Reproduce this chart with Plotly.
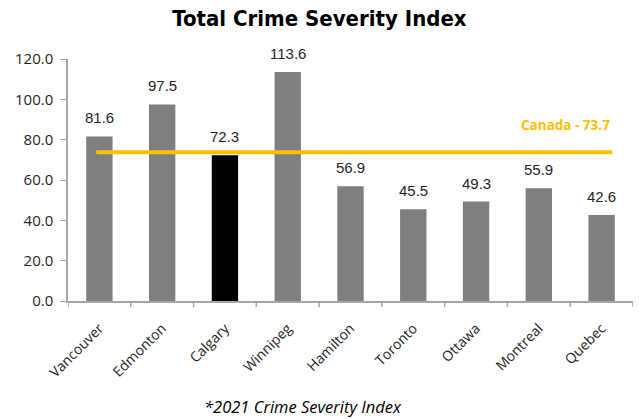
import plotly.graph_objects as go

cities = ["Vancouver", "Edmonton", "Calgary", "Winnipeg", "Hamilton", "Toronto", "Ottawa", "Montreal", "Quebec"]
csi = [81.6, 97.5, 72.3, 113.6, 56.9, 45.5, 49.3, 55.9, 42.6]
canada_avg = 73.7
highlight = "Calgary"
y_ticks = [0, 20, 40, 60, 80, 100, 120]

colors = ["#000000" if c == highlight else "#7f7f7f" for c in cities]
narrow = "DejaVu Sans Condensed, Liberation Sans Narrow, Arial Narrow, sans-serif"
xs = list(range(len(cities)))

fig = go.Figure()
fig.add_trace(go.Bar(
    x=xs, y=csi,
    marker=dict(color=colors, line=dict(width=0)),
    width=0.42, hoverinfo="x+y",
))

for xi, v in zip(xs, csi):
    fig.add_annotation(x=xi, y=v, xref="x", yref="y", yanchor="bottom", yshift=8,
                       text=f"{v:.1f}", showarrow=False,
                       font=dict(family="Liberation Sans, Arial", size=15, color="#262626"))

fig.add_shape(type="line", xref="x", yref="y", x0=-0.05, x1=8.17, y0=canada_avg, y1=canada_avg,
              line=dict(color="#FFC000", width=4))
fig.add_annotation(x=8.17, y=canada_avg, xref="x", yref="y", xanchor="right", yanchor="middle",
                   yshift=27, text=f"<b>Canada - {canada_avg}</b>", showarrow=False,
                   font=dict(family="Open Sans", size=13.5, color="#FFC000"))

fig.update_layout(
    width=639, height=419,
    margin=dict(l=68, r=6, t=59, b=118, autoexpand=False),
    paper_bgcolor="white", plot_bgcolor="white",
    showlegend=False,
    title=dict(text="<b>Total Crime Severity Index</b>", x=0.5, xanchor="center", y=0.957, yanchor="middle",
               font=dict(family=narrow, size=22, color="#000000")),
    xaxis=dict(tickmode="array", tickvals=xs, ticktext=cities,
               tickangle=-45, range=[-0.5, len(cities) - 0.5], automargin=False,
               showline=True, linecolor="#a6a6a6", linewidth=1.5,
               ticks="", showgrid=False, ticklabelstandoff=12,
               tickfont=dict(family="Open Sans", size=14, color="#262626")),
    yaxis=dict(range=[0, 120], tickmode="array", tickvals=y_ticks, ticktext=[f"{v:.1f}" for v in y_ticks],
               showline=True, linecolor="#a6a6a6", linewidth=1.5, ticks="outside", ticklen=6,
               tickcolor="#a6a6a6", showgrid=False, zeroline=False, automargin=False,
               ticklabelstandoff=4,
               tickfont=dict(family="Open Sans", size=15, color="#262626")),
)

# category separator tick marks on x-axis
for i in range(len(cities) + 1):
    fig.add_shape(type="line", xref="x", yref="paper", x0=i - 0.5, x1=i - 0.5, y0=0, y1=-0.025,
                  line=dict(color="#a6a6a6", width=1.5))

fig.add_annotation(x=0.416, y=-0.438, xref="paper", yref="paper", yanchor="middle", xanchor="center",
                   text="<i>*2021 Crime Severity Index</i>", showarrow=False,
                   font=dict(family="Open Sans", size=16.5, color="#000000"))

fig.write_html("out.html", config={"displayModeBar": False},
               post_script="document.body.style.margin='0';")
